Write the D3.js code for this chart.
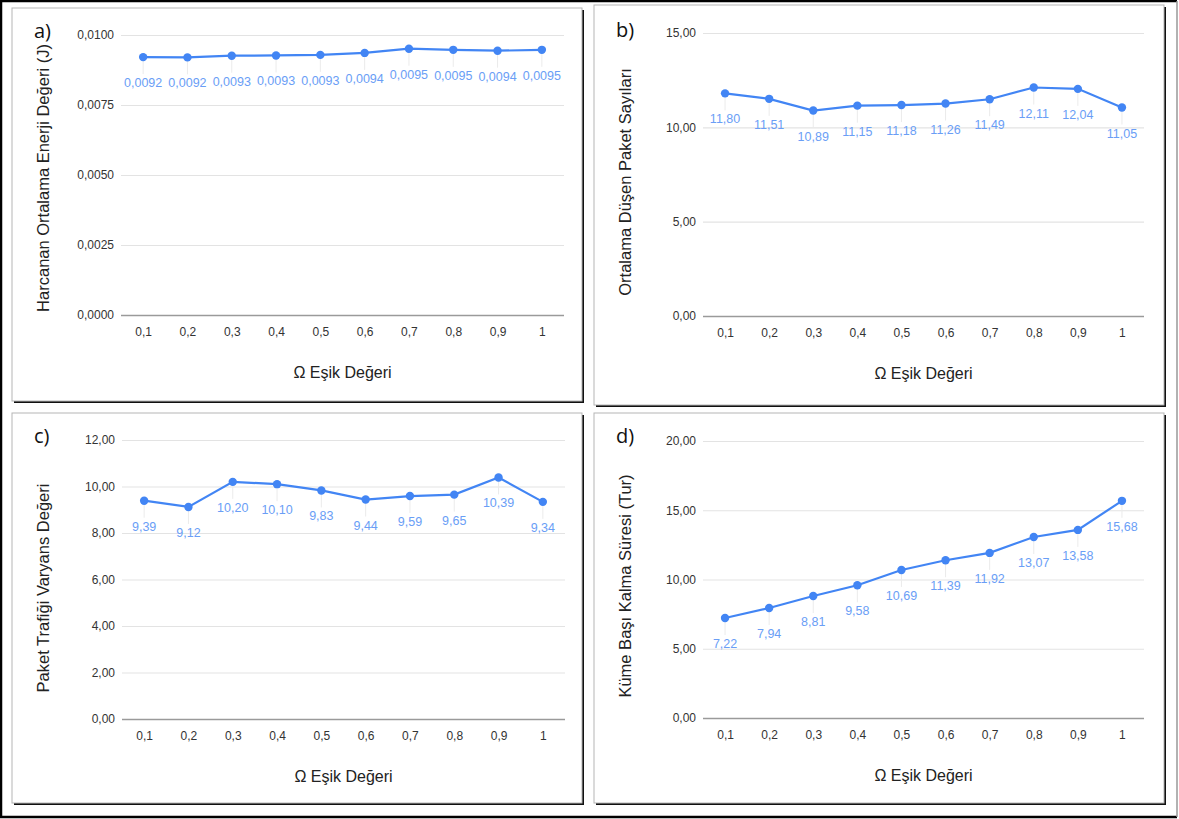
<!DOCTYPE html>
<html>
<head>
<meta charset="utf-8">
<script src="https://cdn.jsdelivr.net/npm/d3@7/dist/d3.min.js"></script>
<style>
    body { margin: 0; background: #fff; }
    text { font-family: "Liberation Sans", Arial, sans-serif; }
</style>
</head>
<body>
<div id="chart"></div>
<script>
// threshold values on the x axis
var thresholds = ["0,1", "0,2", "0,3", "0,4", "0,5", "0,6", "0,7", "0,8", "0,9", "1"];

// a) average energy spent (J)
var energyValues = [0.00921, 0.00920, 0.00926, 0.00927, 0.00929, 0.00936, 0.00951, 0.00947, 0.00944, 0.00947];
var energyTicks = [0, 0.0025, 0.005, 0.0075, 0.01];

// b) average dropped packets
var droppedValues = [11.80, 11.51, 10.89, 11.15, 11.18, 11.26, 11.49, 12.11, 12.04, 11.05];
var droppedTicks = [0, 5, 10, 15];

// c) packet traffic variance
var varianceValues = [9.39, 9.12, 10.20, 10.10, 9.83, 9.44, 9.59, 9.65, 10.39, 9.34];
var varianceTicks = [0, 2, 4, 6, 8, 10, 12];

// d) cluster head duration (rounds)
var durationValues = [7.22, 7.94, 8.81, 9.58, 10.69, 11.39, 11.92, 13.07, 13.58, 15.68];
var durationTicks = [0, 5, 10, 15, 20];

function init() {
    var w = 1179;
    var h = 819;

    var trLocale = d3.formatLocale({ decimal: ",", thousands: ".", grouping: [3], currency: ["", ""] });

    var svg = d3.select("#chart")
        .append("svg")
        .attr("width", w)
        .attr("height", h);

    // outer frame
    svg.append("path")
        .attr("d", "M1177,1 H1 V817 H1177")
        .style("fill", "none")
        .style("stroke", "#000")
        .style("stroke-width", 2.5);
    svg.append("line")
        .attr("x1", 1177).attr("y1", 1).attr("x2", 1177).attr("y2", 817)
        .style("stroke", "#999")
        .style("stroke-width", 1.5);

    var panels = [
        { tag: "a)", values: energyValues, ticks: energyTicks, fmt: ".4f",
          yTitle: "Harcanan Ortalama Enerji Değeri (J)",
          box: [12, 8, 570, 393], x0: 121, x1: 564, yTop: 35, yBottom: 315, titleMid: 178 },
        { tag: "b)", values: droppedValues, ticks: droppedTicks, fmt: ".2f",
          yTitle: "Ortalama Düşen Paket Sayıları",
          box: [594, 5, 570, 400], x0: 703, x1: 1144, yTop: 33, yBottom: 316, titleMid: 182 },
        { tag: "c)", values: varianceValues, ticks: varianceTicks, fmt: ".2f",
          yTitle: "Paket Trafiği Varyans Değeri",
          box: [12, 413, 570, 390], x0: 122, x1: 565, yTop: 440, yBottom: 719, titleMid: 588 },
        { tag: "d)", values: durationValues, ticks: durationTicks, fmt: ".2f",
          yTitle: "Küme Başı Kalma Süresi (Tur)",
          box: [594, 413, 570, 390], x0: 703, x1: 1144, yTop: 441, yBottom: 718, titleMid: 586 }
    ];

    panels.forEach(drawPanel);

    function drawPanel(p) {
        var g = svg.append("g");
        var fmt = trLocale.format(p.fmt);

        // frame with dark shadow on right / bottom
        g.append("rect")
            .attr("x", p.box[0] + 2).attr("y", p.box[1] + 2)
            .attr("width", p.box[2]).attr("height", p.box[3])
            .style("fill", "#111");
        g.append("rect")
            .attr("x", p.box[0]).attr("y", p.box[1])
            .attr("width", p.box[2]).attr("height", p.box[3])
            .style("fill", "#fff")
            .style("stroke", "#b5b5b5")
            .style("stroke-width", 1);

        var xScale = d3.scalePoint()
            .domain(thresholds)
            .range([p.x0, p.x1])
            .padding(0.5);

        var yScale = d3.scaleLinear()
            .domain([0, d3.max(p.ticks)])
            .range([p.yBottom, p.yTop]);

        // gridlines + tick labels
        var yAxis = d3.axisLeft(yScale)
            .tickValues(p.ticks)
            .tickFormat(fmt)
            .tickSize(-(p.x1 - p.x0))
            .tickPadding(7);
        var ya = g.append("g")
            .attr("transform", `translate(${p.x0},0)`)
            .call(yAxis);
        ya.select(".domain").remove();
        ya.selectAll(".tick line")
            .style("stroke", function (d) { return d === 0 ? "#9a9a9a" : "#e3e3e3"; })
            .style("stroke-width", function (d) { return d === 0 ? 1.6 : 1.2; });
        ya.selectAll(".tick text")
            .style("font-size", "12px")
            .style("fill", "#333");

        // x labels
        var xAxis = d3.axisBottom(xScale).tickSize(0).tickPadding(12);
        var xa = g.append("g")
            .attr("transform", `translate(0,${p.yBottom})`)
            .call(xAxis);
        xa.select(".domain").remove();
        xa.selectAll(".tick text")
            .style("font-size", "12px")
            .style("fill", "#333");

        // axis titles
        g.append("text")
            .attr("x", (p.x0 + p.x1) / 2)
            .attr("y", p.yBottom + 63)
            .attr("text-anchor", "middle")
            .style("font-size", "16px")
            .style("fill", "#222")
            .text("Ω Eşik Değeri");

        g.append("text")
            .attr("transform", `translate(${p.box[0] + 37},${p.titleMid}) rotate(-90)`)
            .attr("text-anchor", "middle")
            .style("font-size", "16.5px")
            .style("fill", "#222")
            .text(p.yTitle);

        g.append("text")
            .attr("x", p.box[0] + 22)
            .attr("y", p.box[1] + 30 + (p.box[1] < 8 ? 2 : 0))
            .style("font-family", "'Open Sans', sans-serif")
            .style("font-size", "20px")
            .style("fill", "#111")
            .text(p.tag);

        var pts = p.values.map(function (v, i) { return { x: thresholds[i], y: v }; });

        // annotation stems
        g.selectAll(".stem")
            .data(pts)
            .enter().append("line")
            .attr("x1", function (d) { return xScale(d.x); })
            .attr("x2", function (d) { return xScale(d.x); })
            .attr("y1", function (d) { return yScale(d.y); })
            .attr("y2", function (d) { return yScale(d.y) + 17; })
            .style("stroke", "#ebebeb")
            .style("stroke-width", 1);

        var line = d3.line()
            .x(function (d) { return xScale(d.x); })
            .y(function (d) { return yScale(d.y); });

        g.append("path")
            .datum(pts)
            .attr("d", line)
            .style("fill", "none")
            .style("stroke", "#4285f4")
            .style("stroke-width", 2.2);

        g.selectAll(".dot")
            .data(pts)
            .enter().append("circle")
            .attr("cx", function (d) { return xScale(d.x); })
            .attr("cy", function (d) { return yScale(d.y); })
            .attr("r", 4.2)
            .style("fill", "#4285f4");

        g.selectAll(".val")
            .data(pts)
            .enter().append("text")
            .attr("x", function (d) { return xScale(d.x); })
            .attr("y", function (d) { return yScale(d.y) + 30; })
            .attr("text-anchor", "middle")
            .style("font-size", "12.5px")
            .style("fill", "#6a9ef6")
            .text(function (d) { return fmt(d.y); });
    }
}

window.onload = init;
</script>
</body>
</html>
